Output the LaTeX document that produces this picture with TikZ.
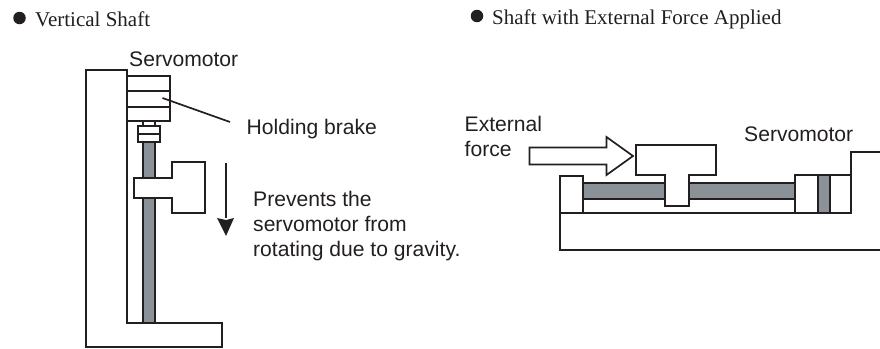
\documentclass[tikz,border=0pt]{standalone}
\usepackage{fontspec}
\setmainfont{Liberation Serif}
\newfontfamily\labelfont{Liberation Sans}
\definecolor{ink}{HTML}{231F20}
\definecolor{shaftgray}{HTML}{8A9297}
\tikzset{
  part/.style={draw=ink,line width=1.7pt,fill=white,line join=miter},
  shaftpart/.style={draw=ink,line width=1.7pt,fill=shaftgray},
  edge/.style={draw=ink,line width=1.7pt},
  labeltext/.style={font=\labelfont\fontsize{21.1}{25}\selectfont,text=ink,anchor=base west,inner sep=0pt,align=left},
  headtext/.style={font=\fontsize{21}{24}\selectfont,text=ink,anchor=base west,inner sep=0pt},
  bulletdot/.style={circle,fill=ink,inner sep=0pt,minimum size=12.5pt}
}
\begin{document}
\begin{tikzpicture}[x=1pt,y=-1pt]
\useasboundingbox (0,0) rectangle (880,348);
% headings
\node[bulletdot] (b1) at (19.5,18) {};
\node[headtext] (h1) at (35,26) {Vertical Shaft};
\node[bulletdot] (b2) at (477,16) {};
\node[headtext] (h2) at (492,24) {Shaft with External Force Applied};
% left: frame
\draw[part] (86,347) -- (86,70) -- (127,70) -- (127,323) -- (222,323) -- (222,347) -- cycle;
% shaft
\draw[shaftpart] (143,142) rectangle (155,323);
% motor
\draw[part] (127,76) rectangle (170,121);
\draw[edge] (127,91) -- (170,91) (127,107) -- (170,107);
\draw[edge,line width=2.3pt] (127,76) -- (127,121);
% coupling
\draw[part] (143,121) rectangle (155,127);
\draw[part] (138,126) rectangle (160,142);
\draw[edge] (138,134) -- (160,134);
% nut
\draw[part] (134,178) -- (172,178) -- (172,162) -- (205,162) -- (205,213) -- (172,213) -- (172,198) -- (134,198) -- cycle;
\draw[edge] (143,178) -- (143,142) (155,178) -- (155,142);
% gravity arrow
\coordinate (g1) at (226,163);
\coordinate (g2) at (226,218);
\draw[edge] (g1) -- (g2);
\fill[ink] (217,218) -- (226,236) -- (234,218) -- (226,220) -- cycle;
% labels left
\node[labeltext] (s1) at (129,66) {Servomotor};
\node[labeltext] (hb) at (246.5,134) {Holding brake};
\coordinate (hbp) at (162.5,98);
\coordinate (hbe) at (230,122);
\draw[edge] (hbp) -- (hbe);
\node[labeltext] (pv) at (253,256.7) {Prevents the\\servomotor from\\rotating due to gravity.};
% right: base
\draw[edge] (880,250) -- (560,250) -- (560,176) -- (583,176) -- (583,213);
\draw[edge] (560,213) -- (851,213) -- (851,152) -- (880,152);
% shaft
\draw[shaftpart] (583,183) rectangle (795,199);
% right block
\draw[edge] (795,213) -- (795,175) -- (851,175);
\draw[shaftpart] (818,175) rectangle (830,213);
% carriage
\draw[part] (636,175) -- (636,145) -- (716,145) -- (716,175) -- (689,175) -- (689,206) -- (665,206) -- (665,175) -- cycle;
% force arrow
\draw[part] (529.5,147.5) -- (606.5,147.5) -- (606.5,137) -- (633,156) -- (606.5,175) -- (606.5,164.5) -- (529.5,164.5) -- cycle;
\node[labeltext] (ef) at (464.5,156.7) {External\\force};
\node[labeltext] (s2) at (744,141) {Servomotor};
\end{tikzpicture}
\end{document}
